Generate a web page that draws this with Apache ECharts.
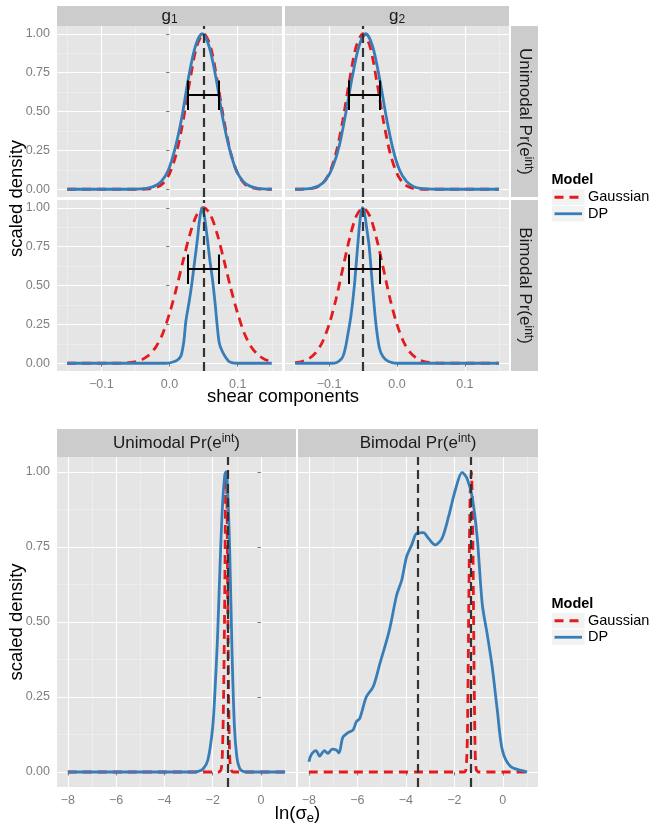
<!DOCTYPE html>
<html><head><meta charset="utf-8">
<script src="https://cdn.jsdelivr.net/npm/echarts@6/dist/echarts.min.js"></script>
<style>html,body{margin:0;padding:0;background:#fff}#c{width:654px;height:827px}</style>
</head><body><div id="c"></div>
<script>
const FONT = "'Liberation Sans', Arial, Helvetica, sans-serif";

// ---------------- data ----------------
const densityTicks = [0, 0.25, 0.5, 0.75, 1];
const densityTickLabels = ['0.00', '0.25', '0.50', '0.75', '1.00'];
const shearTicks = [-0.1, 0, 0.1];
const shearTickLabels = ['\u22120.1', '0.0', '0.1'];
const lnSigmaTicks = [-8, -6, -4, -2, 0];
const lnSigmaTickLabels = ['\u22128', '\u22126', '\u22124', '\u22122', '0'];

const densityRange = [0, 1];
const shearRange = [-0.15, 0.15];
const lnSigmaRange = [-8, 1];

const shearColumns = ['1', '2'];            // g subscripts
const priorRows = ['Unimodal', 'Bimodal'];
const models = ['Gaussian', 'DP'];

// top: shear components, unimodal prior
const gaussUniG1 = [[-0.15,0],[-0.04,0],[-0.03,0.003],[-0.02,0.01],[-0.01,0.035],[0.0,0.1],[0.01,0.23],[0.02,0.44],[0.03,0.7],[0.04,0.92],[0.05,1.0],[0.06,0.92],[0.07,0.7],[0.08,0.44],[0.09,0.23],[0.10,0.1],[0.11,0.035],[0.12,0.01],[0.13,0.003],[0.14,0],[0.15,0]];
const dpUniG1 = [[-0.15,0],[-0.06,0],[-0.042,0.002],[-0.032,0.007],[-0.022,0.02],[-0.012,0.05],[-0.002,0.12],[0.008,0.26],[0.018,0.46],[0.028,0.72],[0.038,0.92],[0.048,1.0],[0.058,0.92],[0.068,0.72],[0.078,0.46],[0.088,0.26],[0.098,0.12],[0.108,0.05],[0.118,0.02],[0.128,0.007],[0.138,0.002],[0.15,0]];
const gaussUniG2 = [[-0.15,0],[-0.14,0],[-0.13,0.003],[-0.12,0.01],[-0.11,0.035],[-0.1,0.1],[-0.09,0.23],[-0.08,0.44],[-0.07,0.7],[-0.06,0.92],[-0.05,1.0],[-0.04,0.92],[-0.03,0.7],[-0.02,0.44],[-0.01,0.23],[0.0,0.1],[0.01,0.035],[0.02,0.01],[0.03,0.003],[0.04,0],[0.15,0]];
const dpUniG2 = [[-0.15,0],[-0.135,0.002],[-0.125,0.007],[-0.115,0.022],[-0.105,0.06],[-0.095,0.14],[-0.085,0.28],[-0.075,0.5],[-0.066,0.72],[-0.056,0.92],[-0.046,1.0],[-0.036,0.92],[-0.026,0.72],[-0.016,0.47],[-0.006,0.26],[0.004,0.12],[0.014,0.05],[0.024,0.018],[0.034,0.006],[0.044,0.002],[0.06,0],[0.15,0]];
// top: shear components, bimodal prior
const gaussBiG1 = [[-0.15,0],[-0.08,0],[-0.07,0.001],[-0.06,0.004],[-0.05,0.01],[-0.04,0.024],[-0.03,0.053],[-0.02,0.105],[-0.01,0.19],[0.0,0.32],[0.01,0.48],[0.02,0.66],[0.03,0.83],[0.04,0.955],[0.05,1.0],[0.06,0.955],[0.07,0.83],[0.08,0.66],[0.09,0.48],[0.10,0.32],[0.11,0.19],[0.12,0.105],[0.13,0.053],[0.14,0.024],[0.15,0.01]];
const dpBiG1 = [[-0.15,0],[-0.005,0],[0.005,0.008],[0.012,0.022],[0.017,0.05],[0.021,0.14],[0.024,0.27],[0.029,0.4],[0.033,0.52],[0.037,0.66],[0.041,0.8],[0.044,0.92],[0.0476,1.0],[0.051,0.95],[0.055,0.82],[0.059,0.67],[0.063,0.54],[0.067,0.38],[0.070,0.24],[0.073,0.13],[0.077,0.08],[0.082,0.04],[0.087,0.012],[0.093,0.002],[0.10,0],[0.15,0]];
const gaussBiG2 = [[-0.15,0.004],[-0.14,0.011],[-0.13,0.029],[-0.12,0.066],[-0.11,0.135],[-0.10,0.25],[-0.09,0.41],[-0.08,0.607],[-0.07,0.80],[-0.06,0.946],[-0.05,1.0],[-0.04,0.946],[-0.03,0.80],[-0.02,0.607],[-0.01,0.41],[0.0,0.25],[0.01,0.135],[0.02,0.066],[0.03,0.029],[0.04,0.011],[0.05,0.004],[0.06,0.001],[0.07,0],[0.15,0]];
const dpBiG2 = [[-0.15,0],[-0.095,0],[-0.09,0.003],[-0.085,0.015],[-0.08,0.04],[-0.076,0.1],[-0.073,0.17],[-0.068,0.3],[-0.063,0.49],[-0.058,0.75],[-0.054,0.94],[-0.051,1.0],[-0.048,0.97],[-0.045,0.88],[-0.041,0.75],[-0.036,0.49],[-0.031,0.25],[-0.026,0.1],[-0.021,0.045],[-0.014,0.015],[-0.007,0.004],[0.0,0],[0.15,0]];

// reference lines and interval bars for shear
const shearTrue = [0.05, -0.05];                  // g1, g2
const shearIntervalG1 = [0.027, 0.072];
const shearIntervalG2 = [-0.071, -0.026];
const intervalLevel = 0.605;
const intervalCapHalf = 0.095;

// bottom: ln(sigma_e)
const gaussLnUni = [[-8,0],[-1.75,0],[-1.65,0.01],[-1.6,0.06],[-1.55,0.25],[-1.5,0.6],[-1.47,0.9],[-1.44,1.0],[-1.41,0.9],[-1.38,0.6],[-1.34,0.25],[-1.3,0.06],[-1.25,0.01],[-1.15,0],[1,0]];
const dpLnUni = [[-8,0],[-2.8,0],[-2.6,0.002],[-2.4,0.01],[-2.2,0.04],[-2.0,0.15],[-1.9,0.28],[-1.8,0.45],[-1.7,0.68],[-1.6,0.88],[-1.5,0.99],[-1.45,1.0],[-1.4,0.97],[-1.3,0.75],[-1.2,0.4],[-1.1,0.15],[-1.0,0.05],[-0.9,0.015],[-0.8,0.004],[-0.6,0],[1,0]];
const gaussLnBi = [[-8,0],[-1.6,0],[-1.5,0.03],[-1.45,0.2],[-1.4,0.6],[-1.35,0.92],[-1.3,1.0],[-1.25,0.85],[-1.2,0.45],[-1.15,0.1],[-1.1,0.01],[-1.0,0],[1,0]];
const dpLnBi = [[-8.0,0.034],[-7.91,0.057],[-7.70,0.071],[-7.56,0.053],[-7.36,0.071],[-7.22,0.062],[-7.04,0.076],[-6.87,0.073],[-6.76,0.064],[-6.60,0.116],[-6.39,0.131],[-6.18,0.14],[-6.04,0.168],[-5.90,0.179],[-5.63,0.251],[-5.35,0.284],[-5.07,0.362],[-4.73,0.457],[-4.59,0.507],[-4.38,0.59],[-4.17,0.64],[-3.97,0.718],[-3.76,0.757],[-3.55,0.796],[-3.28,0.798],[-3.07,0.779],[-2.79,0.757],[-2.51,0.779],[-2.24,0.851],[-1.96,0.94],[-1.68,0.999],[-1.48,0.979],[-1.27,0.918],[-1.06,0.784],[-0.85,0.56],[-0.65,0.462],[-0.44,0.351],[-0.23,0.207],[-0.02,0.073],[0.32,0.018],[0.87,0.003],[1.0,0]];
const lnVlinesUni = [-1.38];
const lnVlinesBi = [-3.51, -1.34];

// ---------------- styling / layout ----------------
const RED = '#E41A1C', BLUE = '#377EB8', VCOL = '#333333';
const TICKCOL = '#7f7f7f';
const LAY = {
  topRows: [[26, 171], [200, 171]],
  topCols: [[57, 225], [285, 224]],
  topStrip: [6, 20],
  rightStrip: [511, 27],
  botTop: 457, botH: 330,
  botCols: [[57, 239], [298, 240]],
  botStrip: [429, 28]
};
function expand(r) { const d = (r[1] - r[0]) * 0.05; return [r[0] - d, r[1] + d]; }
const shearLim = expand(shearRange), lnLim = expand(lnSigmaRange), dLim = expand(densityRange);

function fmt(vals, labs) {
  return v => { const i = vals.findIndex(t => Math.abs(t - v) < 1e-9); return i >= 0 ? labs[i] : ''; };
}
function axisCommon(show, ticks, labels, lim, step, gi, isY) {
  return {
    type: 'value', gridIndex: gi, min: lim[0], max: lim[1],
    minInterval: step, maxInterval: step, splitNumber: Math.round((lim[1] - lim[0]) / step),
    axisLine: { show: false },
    axisTick: { show: show, length: 3.5, lineStyle: { color: TICKCOL, width: 1 }, customValues: ticks },
    axisLabel: { show: show, customValues: ticks, formatter: fmt(ticks, labels), color: TICKCOL, fontSize: 12.5, fontFamily: FONT, margin: isY ? 7 : 7 },
    splitLine: { show: true, lineStyle: { color: '#ffffff', width: 1.1 } },
    minorTick: { show: false, splitNumber: 2 },
    minorSplitLine: { show: true, lineStyle: { color: '#f2f2f2', width: 0.6 } }
  };
}

const grids = [], xAxes = [], yAxes = [], series = [], graphics = [];
function addGrid(l, t, w, h) {
  grids.push({ left: l, top: t, width: w, height: h, show: true, backgroundColor: '#e5e5e5', borderWidth: 0, containLabel: false });
  return grids.length - 1;
}
function curve(gi, name, data, isGauss) {
  series.push({
    type: 'line', name, xAxisIndex: gi, yAxisIndex: gi, data, showSymbol: false, symbol: 'none',
    smooth: 0.3, z: isGauss ? 2 : 3, silent: true,
    lineStyle: isGauss ? { color: RED, width: 2.8, type: [9, 6] } : { color: BLUE, width: 2.8 }
  });
}
function vlines(gi, xs) {
  series.push({
    type: 'line', xAxisIndex: gi, yAxisIndex: gi, data: [], z: 5, silent: true,
    markLine: { silent: true, symbol: ['none', 'none'], label: { show: false }, animation: false,
      lineStyle: { color: VCOL, width: 2.2, type: [9, 5] }, data: xs.map(x => ({ xAxis: x })) }
  });
}
function interval(gi, iv) {
  const y = intervalLevel, h = intervalCapHalf;
  series.push({
    type: 'lines', coordinateSystem: 'cartesian2d', xAxisIndex: gi, yAxisIndex: gi, z: 6, silent: true,
    lineStyle: { color: '#000', width: 2, opacity: 1 },
    data: [{ coords: [[iv[0], y], [iv[1], y]] }, { coords: [[iv[0], y - h], [iv[0], y + h]] }, { coords: [[iv[1], y - h], [iv[1], y + h]] }]
  });
}

// ---- top figure ----
const topData = [
  [[gaussUniG1, dpUniG1, shearIntervalG1], [gaussUniG2, dpUniG2, shearIntervalG2]],
  [[gaussBiG1, dpBiG1, shearIntervalG1], [gaussBiG2, dpBiG2, shearIntervalG2]]
];
for (let r = 0; r < 2; r++) {
  for (let c = 0; c < 2; c++) {
    const gi = addGrid(LAY.topCols[c][0], LAY.topRows[r][0], LAY.topCols[c][1], LAY.topRows[r][1]);
    xAxes.push(axisCommon(r === 1, shearTicks, shearTickLabels, shearLim, 0.1, gi, false));
    yAxes.push(axisCommon(c === 0, densityTicks, densityTickLabels, dLim, 0.25, gi, true));
    const d = topData[r][c];
    curve(gi, models[0], d[0], true);
    curve(gi, models[1], d[1], false);
    vlines(gi, [shearTrue[c]]);
    interval(gi, d[2]);
  }
}
// ---- bottom figure ----
const botData = [[gaussLnUni, dpLnUni, lnVlinesUni], [gaussLnBi, dpLnBi, lnVlinesBi]];
for (let c = 0; c < 2; c++) {
  const gi = addGrid(LAY.botCols[c][0], LAY.botTop, LAY.botCols[c][1], LAY.botH);
  xAxes.push(axisCommon(true, lnSigmaTicks, lnSigmaTickLabels, lnLim, 2, gi, false));
  yAxes.push(axisCommon(c === 0, densityTicks, densityTickLabels, dLim, 0.25, gi, true));
  curve(gi, models[0], botData[c][0], true);
  curve(gi, models[1], botData[c][1], false);
  vlines(gi, botData[c][2]);
}

// ---- strips, titles, legends (graphics) ----
const richStrip = {
  m: { fontSize: 17, fontFamily: FONT, fill: '#1a1a1a', lineHeight: 20 },
  s: { fontSize: 12, fontFamily: FONT, fill: '#1a1a1a', lineHeight: 13, verticalAlign: 'top' },
  b: { fontSize: 12, fontFamily: FONT, fill: '#1a1a1a', lineHeight: 16, verticalAlign: 'bottom' }
};
function priorText(name) { return '{m|' + name + ' Pr(e}{s|int}{m|)}'; }
function txt(x, y, text, rich, rot, extra) {
  graphics.push(Object.assign({
    type: 'text', x: x, y: y, rotation: rot || 0, silent: true,
    style: { text: text, rich: rich, align: 'center', verticalAlign: 'middle', textAlign: 'center', textVerticalAlign: 'middle' }
  }, extra || {}));
}
function rect(x, y, w, h, fill, stroke) {
  graphics.push({ type: 'rect', silent: true, shape: { x, y, width: w, height: h }, style: { fill, stroke: stroke || null, lineWidth: stroke ? 1 : 0 } });
}
// top strips
for (let c = 0; c < 2; c++) {
  const [x0, w] = LAY.topCols[c];
  rect(x0, LAY.topStrip[0], w, LAY.topStrip[1], '#cccccc');
  txt(x0 + w / 2, LAY.topStrip[0] + LAY.topStrip[1] / 2, '{m|g}{b|' + shearColumns[c] + '}', richStrip);
}
for (let r = 0; r < 2; r++) {
  const [y0, h] = LAY.topRows[r];
  rect(LAY.rightStrip[0], y0, LAY.rightStrip[1], h, '#cccccc');
  txt(LAY.rightStrip[0] + LAY.rightStrip[1] / 2, y0 + h / 2, priorText(priorRows[r]), richStrip, -Math.PI / 2);
}
for (let c = 0; c < 2; c++) {
  const [x0, w] = LAY.botCols[c];
  rect(x0, LAY.botStrip[0], w, LAY.botStrip[1], '#cccccc');
  txt(x0 + w / 2, LAY.botStrip[0] + LAY.botStrip[1] / 2, priorText(priorRows[c]), richStrip);
}
// axis titles
const richTitle = {
  t: { fontSize: 18.5, fontFamily: FONT, fill: '#000', lineHeight: 22 },
  b: { fontSize: 13, fontFamily: FONT, fill: '#000', lineHeight: 16, verticalAlign: 'bottom' }
};
txt(17, (LAY.topRows[0][0] + LAY.topRows[1][0] + LAY.topRows[1][1]) / 2, '{t|scaled density}', richTitle, Math.PI / 2);
txt((LAY.topCols[0][0] + LAY.topCols[1][0] + LAY.topCols[1][1]) / 2, 397, '{t|shear components}', richTitle);
txt(17, LAY.botTop + LAY.botH / 2, '{t|scaled density}', richTitle, Math.PI / 2);
txt((LAY.botCols[0][0] + LAY.botCols[1][0] + LAY.botCols[1][1]) / 2, 814, '{t|ln(\u03c3}{b|e}{t|)}', richTitle);

// legends
function legend(x, yTitle, yKey) {
  graphics.push({ type: 'text', x: x, y: yTitle, silent: true,
    style: { text: 'Model', font: 'bold 14.5px ' + FONT, fill: '#000', align: 'left', verticalAlign: 'middle', textAlign: 'left', textVerticalAlign: 'middle' } });
  const kh = 16.5, kw = 33.5;
  for (let i = 0; i < 2; i++) {
    const y0 = yKey + i * kh;
    rect(x, y0, kw, kh, '#f2f2f2', '#ffffff');
    graphics.push({ type: 'line', silent: true, shape: { x1: x + 3, y1: y0 + kh / 2, x2: x + kw - 3, y2: y0 + kh / 2 },
      style: i === 0 ? { stroke: RED, lineWidth: 2.8, lineDash: [9, 6] } : { stroke: BLUE, lineWidth: 2.8 } });
    graphics.push({ type: 'text', x: x + kw + 3, y: y0 + kh / 2, silent: true,
      style: { text: models[i], font: '14.5px ' + FONT, fill: '#000', align: 'left', verticalAlign: 'middle', textAlign: 'left', textVerticalAlign: 'middle' } });
  }
}
legend(551.5, 179.5, 189);
legend(551.5, 604, 612.5);

const chart = echarts.init(document.getElementById('c'), null, { renderer: 'canvas' });
chart.setOption({
  animation: false,
  backgroundColor: '#ffffff',
  grid: grids, xAxis: xAxes, yAxis: yAxes, series: series,
  graphic: { elements: graphics }
});
</script>
</body></html>
